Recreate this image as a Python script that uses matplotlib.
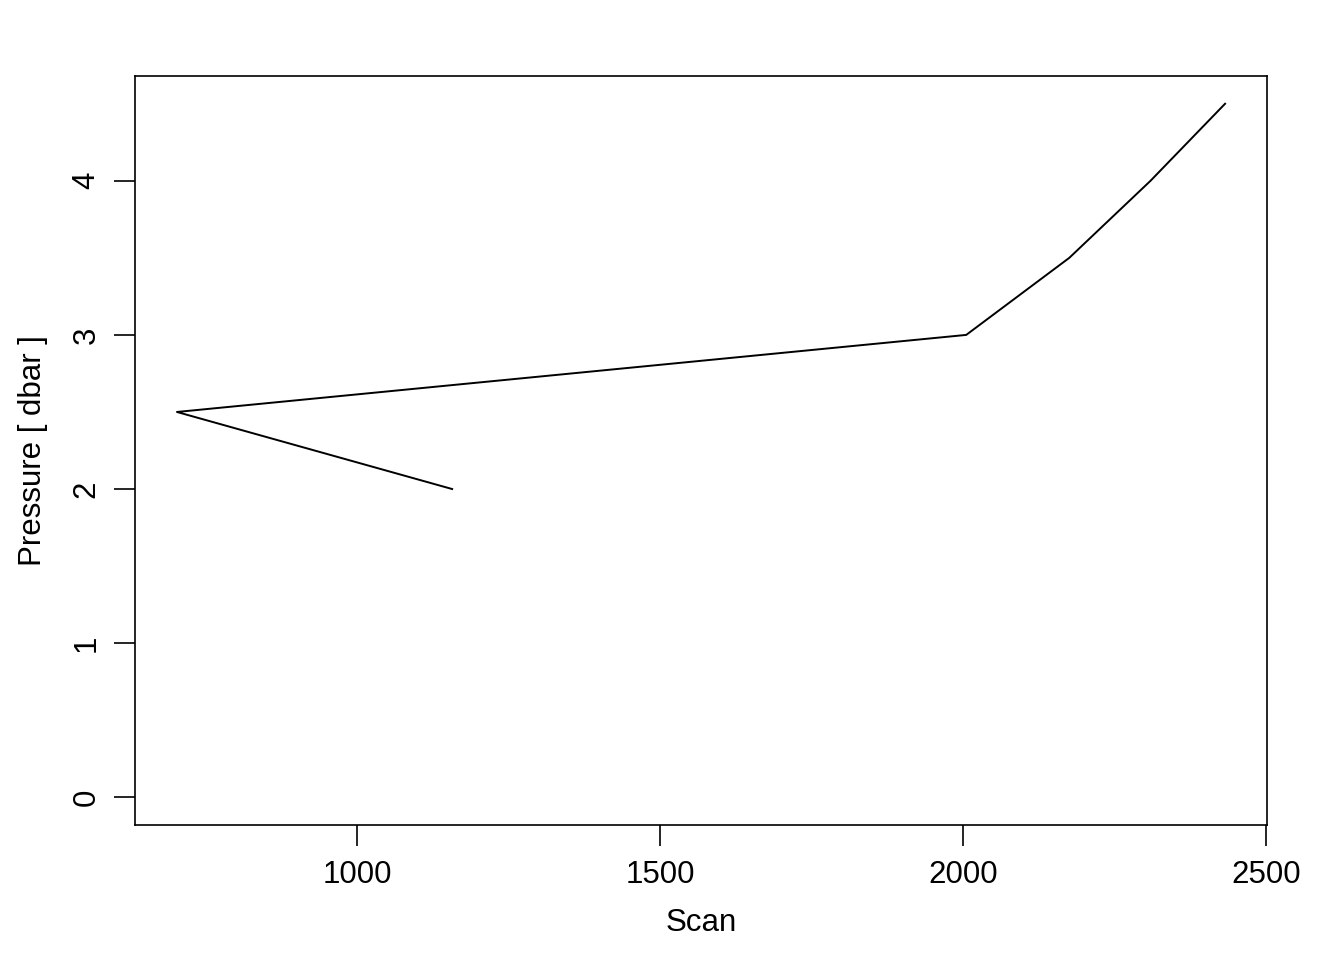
import matplotlib.pyplot as plt
import numpy as np

plt.rcParams['font.family'] = ['Liberation Sans', 'DejaVu Sans']

# scan number vs pressure, in the order the samples were taken
scan = [1157, 703, 2005, 2175, 2309, 2432]
pressure = [2.0, 2.5, 3.0, 3.5, 4.0, 4.5]

xticks = [1000, 1500, 2000, 2500]
yticks = [0, 1, 2, 3, 4]

fig = plt.figure(figsize=(13.44, 9.6), dpi=100)
ax = fig.add_axes([135 / 1344, 1 - 825 / 960, (1267 - 135) / 1344, (825 - 76) / 960])

ax.plot(scan, pressure, color='black', linewidth=1.4)

# R style limits: data range padded by 4 %
xr = max(scan) - min(scan)
ax.set_xlim(min(scan) - 0.04 * xr, max(scan) + 0.04 * xr)
yr = max(pressure) - 0
ax.set_ylim(0 - 0.04 * yr, max(pressure) + 0.04 * yr)

ax.set_xticks(xticks)
ax.set_yticks(yticks)
ax.tick_params(direction='out', length=15, width=1.2, labelsize=22.5, pad=10)
ax.tick_params(axis='y', pad=9)
ax.tick_params(axis='y', labelrotation=90)
for lab in ax.get_yticklabels():
    lab.set_va('center')

for s in ax.spines.values():
    s.set_linewidth(1.2)

ax.set_xlabel('Scan', fontsize=22.5)
ax.xaxis.set_label_coords(0.5, (825 - 923) / 749)
ax.xaxis.label.set_va('center')
ax.set_ylabel('Pressure [ dbar ]', fontsize=22.5)
ax.yaxis.set_label_coords((33 - 135) / 1132, 0.5)
ax.yaxis.label.set_va('center')

fig.savefig('out.png', dpi=100)
